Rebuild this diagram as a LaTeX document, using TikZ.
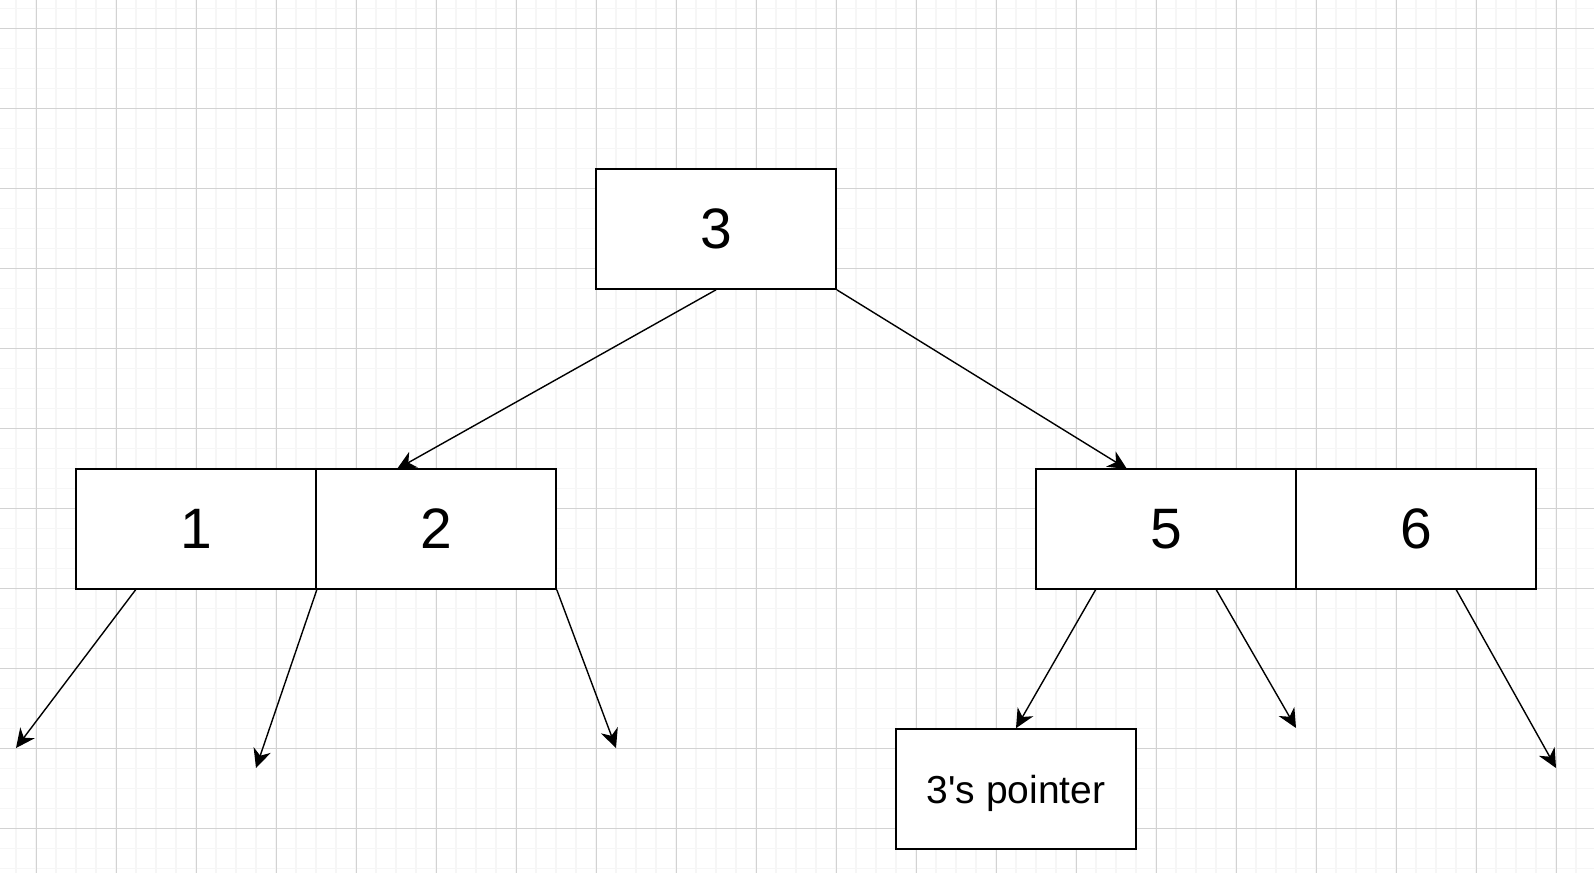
\documentclass[tikz,border=0pt]{standalone}
\usepackage{fontspec}
\setmainfont{Liberation Sans}
\newfontfamily\plainsans{Liberation Sans}
\usetikzlibrary{arrows.meta,calc}
\definecolor{gridminor}{RGB}{246,246,246}
\definecolor{gridmajor}{RGB}{210,210,210}
\tikzset{
  cell/.style={draw=black, line width=0.8pt, fill=white, rectangle, minimum width=120pt, minimum height=60pt, inner sep=0pt, text depth=0pt, font=\fontsize{28.5}{34}\selectfont},
  wcell/.style={cell, minimum width=130pt},
  smallcell/.style={cell, font=\plainsans\fontsize{19.5}{24}\selectfont},
  link/.style={line width=0.7pt, -{Stealth[length=9.5pt, width=9pt, inset=3pt]}},
  minorline/.style={draw=gridminor, line width=0.8pt},
  majorline/.style={draw=gridmajor, line width=0.5pt}
}
\begin{document}
\begin{tikzpicture}[x=0.5pt, y=-0.5pt]
\useasboundingbox (0,0) rectangle (1594,873);
\fill[white] (0,0) rectangle (1594,873);
% grid
\foreach \x in {16,36,...,1594} \draw[minorline] (\x,0) -- (\x,873);
\foreach \y in {8.5,28.5,...,873} \draw[minorline] (0,\y) -- (1594,\y);
\foreach \x in {36,116,...,1594} \draw[majorline] (\x,0) -- (\x,873);
\foreach \y in {28.5,108.5,...,873} \draw[majorline] (0,\y) -- (1594,\y);

% nodes
\node[cell] (n3) at (716,229) {3};
\node[cell] (n1) at (196,529) {1};
\node[cell] (n2) at (436,529) {2};
\node[wcell] (n5) at (1166,529) {5};
\node[cell] (n6) at (1416,529) {6};
\node[smallcell] (ptr) at (1016,789) {3's pointer};

% free ends
\coordinate (t2) at (397,469);
\coordinate (t5) at (1127,469);
\coordinate (e1) at (16,748);
\coordinate (e2) at (256,768);
\coordinate (e3) at (616,748);
\coordinate (e5) at (1296,728);
\coordinate (e6) at (1556,768);

% connectors
\draw[link] (n3.south) -- (t2);
\draw[link] (n3.south east) -- (t5);
\draw[link] ($(n1.south west)!0.25!(n1.south east)$) -- (e1);
\draw[link] (n1.south east) -- (e2);
\draw[link] (n2.south east) -- (e3);
\draw[link] ($(n5.south west)!0.2308!(n5.south east)$) -- (ptr.north);
\draw[link] ($(n5.south west)!0.6923!(n5.south east)$) -- (e5);
\draw[link] ($(n6.south west)!0.6667!(n6.south east)$) -- (e6);
\end{tikzpicture}
\end{document}
